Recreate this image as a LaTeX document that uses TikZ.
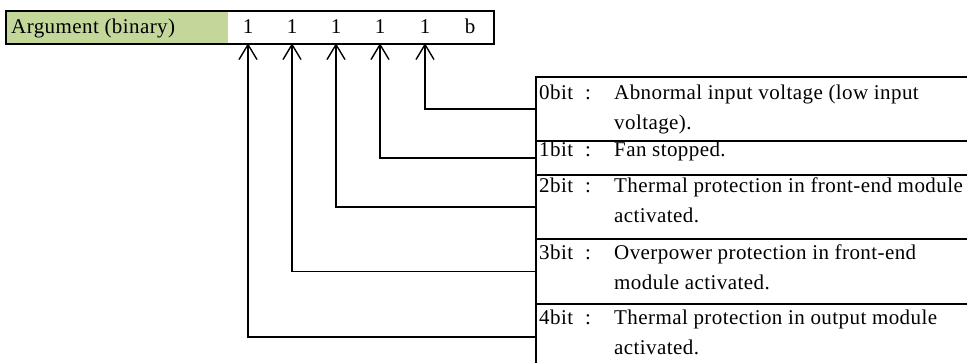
\documentclass[tikz,border=0pt]{standalone}
\usepackage{fontspec}
\setmainfont{Liberation Serif}[LetterSpace=2]
\usetikzlibrary{arrows.meta}
\definecolor{argGreen}{RGB}{196,215,155}
\begin{document}
\begin{tikzpicture}[x=1pt,y=-1pt,
  txt/.style={font=\fontsize{21}{30}\selectfont, inner sep=0pt, anchor=base west},
  digit/.style={font=\fontsize{21}{30}\selectfont, inner sep=0pt, minimum width=20, minimum height=33, anchor=center},
  rowbox/.style={draw, line width=1.8pt, minimum width=445, anchor=north west, inner sep=0pt},
  conn/.style={line width=1.4pt, -{Straight Barb[length=15pt, width=18pt, line width=1.4pt]}},
]
\clip (0,0) rectangle (967,363);
% top box
\node[fill=argGreen, minimum width=223, minimum height=33, anchor=north west, inner sep=0pt] (arglbl) at (5,10) {};
\node[txt] (argtext) at (11,33.5) {Argument (binary)};
\node[draw, line width=1.8pt, minimum width=488, minimum height=33, anchor=north west, inner sep=0pt] (argbox) at (5,10) {};
\node[digit] (d4) at (248,26.5) {1};
\node[digit] (d3) at (292,26.5) {1};
\node[digit] (d2) at (336,26.5) {1};
\node[digit] (d1) at (380,26.5) {1};
\node[digit] (d0) at (425,26.5) {1};
\node[digit] (db) at (470,26.5) {b};
% table rows
\node[rowbox, minimum height=64] (r0) at (535,76) {};
\node[rowbox, minimum height=34] (r1) at (535,140) {};
\node[rowbox, minimum height=64] (r2) at (535,174) {};
\node[rowbox, minimum height=65] (r3) at (535,238) {};
\node[rowbox, minimum height=66] (r4) at (535,303) {};
% row texts
\node[txt] (l0) at (539,100) {0bit};
\node[txt] (c0) at (585,100) {:};
\node[txt] (t0a) at (614,100) {Abnormal input voltage (low input};
\node[txt] (t0b) at (614,130) {voltage).};
\node[txt] (l1) at (539,157) {1bit};
\node[txt] (c1) at (585,157) {:};
\node[txt] (t1a) at (614,157) {Fan stopped.};
\node[txt] (l2) at (539,193) {2bit};
\node[txt] (c2) at (585,193) {:};
\node[txt] (t2a) at (614,193) {Thermal protection in front-end module};
\node[txt] (t2b) at (614,223) {activated.};
\node[txt] (l3) at (539,260) {3bit};
\node[txt] (c3) at (585,260) {:};
\node[txt] (t3a) at (614,260) {Overpower protection in front-end};
\node[txt] (t3b) at (614,290) {module activated.};
\node[txt] (l4) at (539,325) {4bit};
\node[txt] (c4) at (585,325) {:};
\node[txt] (t4a) at (614,325) {Thermal protection in output module};
\node[txt] (t4b) at (614,355) {activated.};
% connectors
\draw[conn] (r0.west) -| (d0.south);
\draw[conn] (r1.west) -| (d1.south);
\draw[conn] (r2.west) -| (d2.south);
\draw[conn] (r3.west) -| (d3.south);
\draw[conn] (r4.west) -| (d4.south);
\end{tikzpicture}
\end{document}
